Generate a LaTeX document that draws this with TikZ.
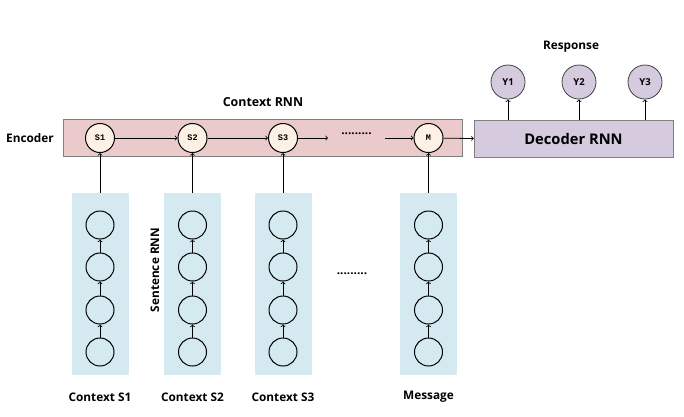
\documentclass[tikz,border=0pt]{standalone}
\usepackage{fontspec}
\setmainfont{Open Sans}
\newfontfamily\cellfont{Liberation Mono}
\usetikzlibrary{positioning}

\definecolor{encpink}{HTML}{EBCACB}
\definecolor{declav}{HTML}{D6CBDE}
\definecolor{colblue}{HTML}{D4EAF0}
\definecolor{scream}{HTML}{FDF0E4}

\tikzset{
  lbl/.style={font=\bfseries\fontsize{11.8}{14}\selectfont},
  encbox/.style={draw=gray, fill=encpink, minimum width=399pt, minimum height=37pt},
  decbox/.style={draw=gray, fill=declav, minimum width=199pt, minimum height=37pt,
    font=\bfseries\fontsize{14.7}{17}\selectfont},
  colbox/.style={fill=colblue, minimum width=57pt, minimum height=182pt},
  snode/.style={circle, draw, line width=1pt, fill=scream, minimum size=29pt, inner sep=0pt,
    font=\cellfont\bfseries\fontsize{8.5}{9}\selectfont},
  ynode/.style={circle, draw=darkgray, line width=0.8pt, fill=declav, minimum size=34pt, inner sep=0pt,
    font=\bfseries\fontsize{9.5}{10}\selectfont},
  cell/.style={circle, draw, line width=1pt, minimum size=28pt, inner sep=0pt},
  link/.style={->, line width=0.8pt}
}

\begin{document}
\begin{tikzpicture}[x=1pt, y=-1pt]
        \useasboundingbox (0,0) rectangle (684,416);

        % Encoder and decoder blocks
        \node[encbox] (enc) at (262.5,137.5) {};
        \node[decbox] (dec) at (573.5,138.5) {Decoder RNN};
        \node[lbl] (enclbl) at (30,138) {Encoder};
        \node[lbl, font=\bfseries\fontsize{12.4}{14}\selectfont] (ctxlbl) at (263,102) {Context RNN};
        \node[lbl] (resplbl) at (571,47) {Response};

        % Sentence RNN columns
        \foreach \i/\x/\s/\name in {1/100/S1/Context S1, 2/192.5/S2/Context S2,
                                    3/283/S3/Context S3, 4/428.5/M/Message} {
            \node[colbox] (col\i) at (\x,284) {};
            \node[snode] (s\i) at (\x,138) {\s};
            \node[lbl] (name\i) at (\x,397) {\name};
            \foreach \k/\y in {1/352, 2/310, 3/267, 4/225} {
                \node[cell] (c\i-\k) at (\x,\y) {};
            }
            \draw[link] (c\i-1) -- (c\i-2);
            \draw[link] (c\i-2) -- (c\i-3);
            \draw[link] (c\i-3) -- (c\i-4);
            \draw[link] (col\i.north) -- (s\i);
        }
        \node[lbl, rotate=90] (sentlbl) at (155,270) {Sentence RNN};
        \node[lbl] (coldots) at (352,274) {.........};

        % Context RNN chain
        \coordinate (gapin) at (328,138);
        \coordinate (gapout) at (385,138);
        \draw[link] (s1) -- (s2);
        \draw[link] (s2) -- (s3);
        \draw[link] (s3) -- (gapin);
        \node[lbl] (encdots) at (356.5,134) {.........};
        \draw[link] (gapout) -- (s4);
        \draw[link] (s4) -- (dec.west);

        % Response outputs
        \foreach \j/\x in {1/508, 2/579, 3/645} {
            \node[ynode] (y\j) at (\x,82) {Y\j};
            \draw[link] (y\j |- dec.north) -- (y\j);
        }
    \end{tikzpicture}
\end{document}
